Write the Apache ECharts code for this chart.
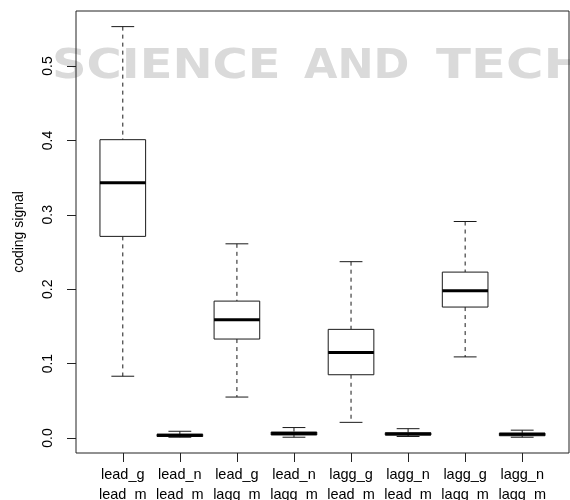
<!DOCTYPE html>
<html>
<head>
<meta charset="utf-8">
<script src="https://cdn.jsdelivr.net/npm/echarts@6/dist/echarts.min.js"></script>
<style>
html,body{margin:0;padding:0;background:#fff;}
#chart{width:570px;height:500px;}
</style>
</head>
<body>
<div id="chart"></div>
<script>
// ---- data ----
const labelsTop    = ['lead_g','lead_n','lead_g','lead_n','lagg_g','lagg_n','lagg_g','lagg_n'];
const labelsBottom = ['lead_m','lead_m','lagg_m','lagg_m','lead_m','lead_m','lagg_m','lagg_m'];
const whiskerLow  = [0.083, 0.001, 0.055, 0.001, 0.021, 0.002, 0.109, 0.001];
const q1          = [0.271, 0.002, 0.133, 0.004, 0.085, 0.004, 0.176, 0.003];
const median      = [0.343, 0.0035,0.159, 0.006, 0.115, 0.0055,0.198, 0.005];
const q3          = [0.401, 0.005, 0.184, 0.008, 0.146, 0.007, 0.223, 0.0065];
const whiskerHigh = [0.553, 0.009, 0.261, 0.014, 0.237, 0.0125,0.291, 0.0105];
const yTicks = [0, 0.1, 0.2, 0.3, 0.4, 0.5];
const xTicks = [1, 2, 3, 4, 5, 6, 7, 8];
const yTitle = 'coding signal';
const watermark = ['SCIENCE', 'AND', 'TECH'];

const FONT = '"Liberation Sans", Arial, Helvetica, sans-serif';
const boxData = labelsTop.map((_, i) => [i + 1, whiskerLow[i], q1[i], median[i], q3[i], whiskerHigh[i]]);

const chart = echarts.init(document.getElementById('chart'), null, {renderer: 'canvas'});

function renderBox(params, api) {
  const x = api.value(0);
  const lo = api.coord([x, api.value(1)]);
  const b1 = api.coord([x, api.value(2)]);
  const md = api.coord([x, api.value(3)]);
  const b3 = api.coord([x, api.value(4)]);
  const hi = api.coord([x, api.value(5)]);
  const bw = api.size([0.8, 0])[0];
  const cw = api.size([0.4, 0])[0];
  const cx = lo[0];
  const stroke = '#1a1a1a';
  return {
    type: 'group',
    children: [
      {type: 'line', shape: {x1: cx, y1: hi[1], x2: cx, y2: b3[1]}, style: {stroke, lineWidth: 1, lineDash: [4, 4]}},
      {type: 'line', shape: {x1: cx, y1: b1[1], x2: cx, y2: lo[1]}, style: {stroke, lineWidth: 1, lineDash: [4, 4]}},
      {type: 'line', shape: {x1: cx - cw / 2, y1: hi[1], x2: cx + cw / 2, y2: hi[1]}, style: {stroke, lineWidth: 1}},
      {type: 'line', shape: {x1: cx - cw / 2, y1: lo[1], x2: cx + cw / 2, y2: lo[1]}, style: {stroke, lineWidth: 1}},
      {type: 'rect', shape: {x: cx - bw / 2, y: b3[1], width: bw, height: b1[1] - b3[1]}, style: {fill: '#fff', stroke, lineWidth: 1}},
      {type: 'line', shape: {x1: cx - bw / 2, y1: md[1], x2: cx + bw / 2, y2: md[1]}, style: {stroke: '#000', lineWidth: 3}}
    ]
  };
}

const wmStyle = {fill: '#dadada', font: 'bold 40px "DejaVu Sans", sans-serif', textVerticalAlign: 'middle'};

chart.setOption({
  animation: false,
  backgroundColor: '#fff',
  graphic: [
    {type: 'text', left: 52, top: 48, z: -10, scaleX: 1.2, style: Object.assign({text: watermark[0]}, wmStyle)},
    {type: 'text', left: 304, top: 48, z: -10, scaleX: 1.08, style: Object.assign({text: watermark[1]}, wmStyle)},
    {type: 'text', left: 436, top: 48, z: -10, scaleX: 1.28, style: Object.assign({text: watermark[2]}, wmStyle)}
  ],
  grid: {left: 76, right: 1, top: 11, bottom: 47, show: true, borderColor: '#222', borderWidth: 1,
         backgroundColor: 'transparent', containLabel: false, outerBoundsMode: 'none'},
  xAxis: {
    type: 'value', min: 0.18, max: 8.82,
    axisLine: {show: false, onZero: false},
    splitLine: {show: false},
    axisTick: {show: true, inside: false, customValues: xTicks, length: 9, lineStyle: {color: '#222'}},
    axisLabel: {
      customValues: xTicks, margin: 12,
      formatter: v => labelsTop[Math.round(v) - 1] + '\n' + labelsBottom[Math.round(v) - 1],
      fontFamily: FONT, fontSize: 14.5, lineHeight: 20, color: '#000'
    }
  },
  yAxis: {
    type: 'value', min: -0.0202, max: 0.574,
    name: yTitle, nameLocation: 'middle', nameGap: 50, nameRotate: 90,
    nameTextStyle: {fontFamily: FONT, fontSize: 14, color: '#000'},
    axisLine: {show: false, onZero: false},
    splitLine: {show: false},
    axisTick: {show: true, inside: false, customValues: yTicks, length: 9, lineStyle: {color: '#222'}},
    axisLabel: {
      customValues: yTicks, rotate: 90, margin: 21,
      formatter: v => v.toFixed(1),
      fontFamily: FONT, fontSize: 14, color: '#000'
    }
  },
  series: [{
    type: 'custom',
    renderItem: renderBox,
    encode: {x: 0, y: [1, 2, 3, 4, 5]},
    data: boxData,
    clip: false
  }]
});
</script>
</body>
</html>
